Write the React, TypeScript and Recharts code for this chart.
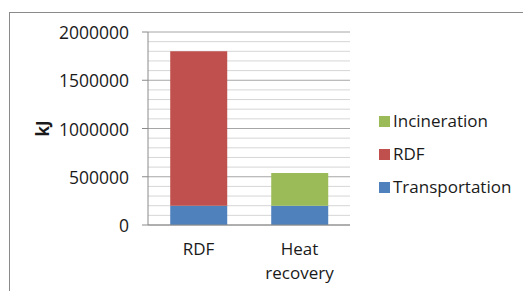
import React from "react";
import { BarChart, Bar, XAxis, YAxis, CartesianGrid } from "recharts";

const categories = ["RDF", "Heat recovery"];
const transportation = [200000, 200000];
const rdf = [1600000, 0];
const incineration = [0, 340000];

const majorStep = 500000;
const yTicks = Array.from({ length: 21 }, (_, i) => i * 100000);

const series = [
  { key: "transportation", name: "Transportation", color: "#4F81BD" },
  { key: "rdf", name: "RDF", color: "#C0504D" },
  { key: "incineration", name: "Incineration", color: "#9BBB59" },
];

const data = categories.map((name, i) => ({
  name,
  transportation: transportation[i],
  rdf: rdf[i],
  incineration: incineration[i],
}));

const FONT = "'Open Sans', sans-serif";

function CategoryTick({ x, y, payload }: any) {
  const lines = String(payload.value).split(" ");
  return (
    <text x={x} y={y} textAnchor="middle" fontFamily={FONT} fontSize={17} fill="#1a1a1a">
      {lines.map((l, i) => (
        <tspan key={i} x={x} dy={i === 0 ? 22 : 24}>
          {l}
        </tspan>
      ))}
    </text>
  );
}

function ValueTick({ x, y, payload }: any) {
  if (payload.value % majorStep !== 0) return null;
  return (
    <g>
      <line x1={x + 13} x2={x + 19} y1={y} y2={y} stroke="#8a8a8a" />
      <text x={x} y={y} textAnchor="end" dominantBaseline="central" fontFamily={FONT} fontSize={17.5} fill="#1a1a1a">
        {payload.value}
      </text>
    </g>
  );
}

function GridLine(props: any) {
  const v = yTicks[props.index];
  const major = v !== undefined && v % majorStep === 0;
  return (
    <line
      x1={props.x1}
      x2={props.x2}
      y1={props.y1}
      y2={props.y2}
      stroke={major ? "#a6a6a6" : "#d6d6d6"}
      strokeWidth={1}
    />
  );
}

function LegendBox() {
  return (
    <div style={{ position: "absolute", left: 379, top: 104, fontFamily: FONT, fontSize: 17, color: "#1a1a1a" }}>
      {[...series].reverse().map((s) => (
        <div key={s.key} style={{ display: "flex", alignItems: "center", height: 33 }}>
          <span style={{ width: 11, height: 11, background: s.color, marginRight: 3, marginTop: 2 }} />
          <span>{s.name}</span>
        </div>
      ))}
    </div>
  );
}

export default function App() {
  return (
    <div style={{ position: "absolute", left: 0, top: 0, width: 523, height: 291, background: "#fff", overflow: "hidden" }}>
      <div
        style={{
          position: "absolute",
          left: 9,
          top: 12,
          width: 520,
          height: 290,
          borderLeft: "1px solid #8a8a8a",
          borderTop: "1px solid #8a8a8a",
        }}
      />
      <BarChart
        width={523}
        height={291}
        data={data}
        margin={{ top: 32, right: 173, bottom: 36, left: 0 }}
        barCategoryGap="22%"
        style={{ position: "absolute", left: 0, top: 0 }}
      >
        <CartesianGrid vertical={false} horizontal={(p: any) => <GridLine {...p} />} />
        <XAxis
          dataKey="name"
          height={30}
          tickLine={false}
          axisLine={{ stroke: "#8a8a8a" }}
          tick={<CategoryTick />}
          interval={0}
        />
        <YAxis
          width={148}
          domain={[0, 2000000]}
          ticks={yTicks}
          interval={0}
          tickSize={0}
          tickMargin={19}
          axisLine={{ stroke: "#8a8a8a" }}
          tickLine={false}
          tick={<ValueTick />}
          label={{
            value: "kJ",
            content: ({ viewBox }: any) => {
              const cx = (viewBox?.x ?? 0) + 42;
              const cy = (viewBox?.y ?? 0) + (viewBox?.height ?? 0) / 2;
              return (
                <text
                  x={cx}
                  y={cy}
                  textAnchor="middle"
                  dominantBaseline="central"
                  transform={`rotate(-90 ${cx} ${cy})`}
                  fontFamily={FONT}
                  fontSize={17}
                  fontWeight="bold"
                  fill="#1a1a1a"
                >
                  kJ
                </text>
              );
            },
          }}
        />
        {series.map((s) => (
          <Bar key={s.key} dataKey={s.key} name={s.name} stackId="a" fill={s.color} isAnimationActive={false} />
        ))}
      </BarChart>
      <LegendBox />
    </div>
  );
}
